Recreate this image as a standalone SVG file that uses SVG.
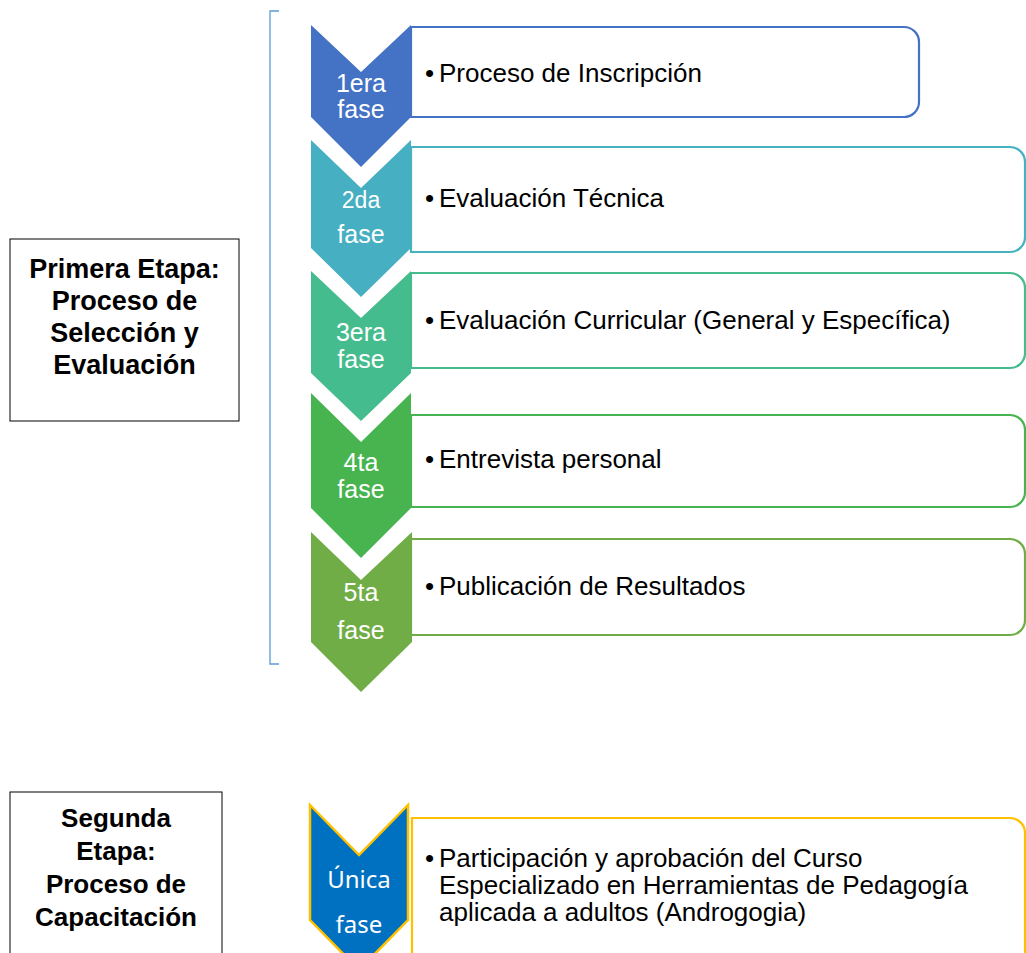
<svg xmlns="http://www.w3.org/2000/svg" width="1026" height="953" viewBox="0 0 1026 953">
<style>
.box{fill:#fff;stroke-width:2.2}
.lbl{font-family:"Liberation Sans",Arial,sans-serif;font-size:26px;fill:#000}
.chev{font-family:"Liberation Sans",Arial,sans-serif;font-size:25px;fill:#fff;text-anchor:middle}
.stage{font-family:"Liberation Sans",Arial,sans-serif;font-size:26px;font-weight:bold;fill:#000;text-anchor:middle}
.big{font-size:27px}
.sm{font-size:23px}
.sbox{fill:#fff;stroke:#000;stroke-width:1}
</style>
<rect width="1026" height="953" fill="#fff"/>
<g id="connectors">
<path d="M279,11 H270 V664 H279" fill="none" stroke="#5B9BD5" stroke-width="1.3"/>
</g>
<g id="stage1">
<rect class="sbox" x="10" y="239" width="229" height="182"/>
<text class="stage big" x="124.5" y="278">Primera Etapa:</text>
<text class="stage big" x="124.5" y="310">Proceso de</text>
<text class="stage big" x="124.5" y="342">Selección y</text>
<text class="stage big" x="124.5" y="374">Evaluación</text>
</g>
<g id="fase1">
<path class="box" d="M411,27 H904 A15,15 0 0 1 919,42 V102 A15,15 0 0 1 904,117 H411 Z" stroke="#4472C4"/>
<polygon points="311,25 361,72 411,25 411,117 361,167 311,117" fill="#4472C4"/>
<text class="chev" x="361" y="92">1era</text>
<text class="chev" x="361" y="118">fase</text>
<text class="lbl" x="425" y="82">•</text>
<text class="lbl" x="439" y="82">Proceso de Inscripción</text>
</g>
<g id="fase2">
<path class="box" d="M411,147 H1010 A15,15 0 0 1 1025,162 V237 A15,15 0 0 1 1010,252 H411 Z" stroke="#46B1C1"/>
<polygon points="311,140 361,188 411,140 411,248 361,297 311,248" fill="#46AFC1"/>
<text class="chev sm" x="361" y="208">2da</text>
<text class="chev" x="361" y="243">fase</text>
<text class="lbl" x="425" y="207">•</text>
<text class="lbl" x="439" y="207">Evaluación Técnica</text>
</g>
<g id="fase3">
<path class="box" d="M411,273 H1010 A15,15 0 0 1 1025,288 V353 A15,15 0 0 1 1010,368 H411 Z" stroke="#45BC8D"/>
<polygon points="311,271 361,318 411,271 411,373 361,421 311,373" fill="#45BC8D"/>
<text class="chev" x="361" y="341">3era</text>
<text class="chev" x="361" y="368">fase</text>
<text class="lbl" x="425" y="329">•</text>
<text class="lbl" x="439" y="329">Evaluación Curricular (General y Específica)</text>
</g>
<g id="fase4">
<path class="box" d="M411,415 H1010 A15,15 0 0 1 1025,430 V492 A15,15 0 0 1 1010,507 H411 Z" stroke="#47B450"/>
<polygon points="311,393 361,442 411,393 411,508 361,558 311,508" fill="#47B450"/>
<text class="chev" x="361" y="471">4ta</text>
<text class="chev" x="361" y="498">fase</text>
<text class="lbl" x="425" y="468">•</text>
<text class="lbl" x="439" y="468">Entrevista personal</text>
</g>
<g id="fase5">
<path class="box" d="M411,539 H1010 A15,15 0 0 1 1025,554 V620 A15,15 0 0 1 1010,635 H411 Z" stroke="#71AD47"/>
<polygon points="311,532 361,580 412,532 412,642 361,692 311,642" fill="#71AD47"/>
<text class="chev" x="361" y="601">5ta</text>
<text class="chev" x="361" y="639">fase</text>
<text class="lbl" x="425" y="595">•</text>
<text class="lbl" x="439" y="595">Publicación de Resultados</text>
</g>
<g id="stage2">
<rect class="sbox" x="10" y="792" width="212" height="180"/>
<text class="stage" x="116" y="827">Segunda</text>
<text class="stage" x="116" y="860">Etapa:</text>
<text class="stage" x="116" y="893">Proceso de</text>
<text class="stage" x="116" y="926">Capacitación</text>
</g>
<g id="faseUnica">
<path d="M412,818 H1010 A15,15 0 0 1 1025,833 V990 H412 Z" fill="#fff" stroke="#FFC000" stroke-width="2.2"/>
<polygon points="310,805 359,855 408,805 408,920 359,970 310,920" fill="#0070C0" stroke="#FFC000" stroke-width="2.5" stroke-linejoin="miter"/>
<text x="359" y="888" font-family="'Noto Sans','Open Sans',sans-serif" font-size="24" fill="#fff" text-anchor="middle">Única</text>
<text x="359" y="933" font-family="'Noto Sans','Open Sans',sans-serif" font-size="24" fill="#fff" text-anchor="middle">fase</text>
<text class="lbl" x="425" y="867">•</text>
<text class="lbl" x="439" y="867">Participación y aprobación del Curso</text>
<text class="lbl" x="439" y="894">Especializado en Herramientas de Pedagogía</text>
<text class="lbl" x="439" y="921">aplicada a adultos (Androgogia)</text>
</g>
</svg>
